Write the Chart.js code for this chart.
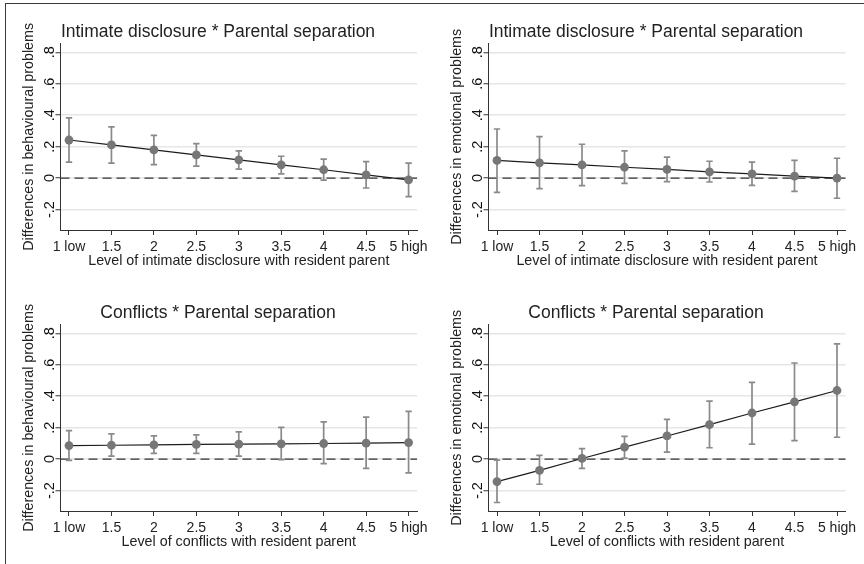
<!DOCTYPE html>
<html>
<head>
<meta charset="utf-8">
<title>Interaction effects</title>
<script src="https://cdn.jsdelivr.net/npm/chart.js@4.4.1/dist/chart.umd.min.js"></script>
<style>
  html, body { margin: 0; padding: 0; background: #fff; }
  #page { position: relative; width: 864px; height: 564px; overflow: hidden; }
  #frame {
    position: absolute; left: 5px; top: 3px; width: 880px; height: 580px;
    border-left: 1.5px solid #3a3a3a; border-top: 1.5px solid #3a3a3a;
  }
  .panel { position: absolute; width: 432px; height: 282px; }
</style>
</head>
<body>
<div id="page">
  <div id="frame"></div>
  <div class="panel" style="left:0;top:0"><canvas id="c1" width="432" height="282"></canvas></div>
  <div class="panel" style="left:432px;top:0"><canvas id="c2" width="432" height="282"></canvas></div>
  <div class="panel" style="left:0;top:281px"><canvas id="c3" width="432" height="282"></canvas></div>
  <div class="panel" style="left:432px;top:281px"><canvas id="c4" width="432" height="282"></canvas></div>
</div>
<script>
// x axis: level of the relationship quality
const xLevels = [1, 1.5, 2, 2.5, 3, 3.5, 4, 4.5, 5];
const xTickLabels = ['1 low', '1.5', '2', '2.5', '3', '3.5', '4', '4.5', '5 high'];
const yTickValues = [-0.2, 0, 0.2, 0.4, 0.6, 0.8];
const yTickLabels = ['-.2', '0', '.2', '.4', '.6', '.8'];

// intimate disclosure -> behavioural problems
const bhvIntimateEst = [0.242, 0.211, 0.179, 0.147, 0.116, 0.084, 0.053, 0.021, -0.011];
const bhvIntimateLo  = [0.101, 0.095, 0.086, 0.076, 0.057, 0.027, -0.013, -0.063, -0.118];
const bhvIntimateHi  = [0.383, 0.326, 0.272, 0.219, 0.173, 0.139, 0.120, 0.105, 0.095];

// intimate disclosure -> emotional problems
const emoIntimateEst = [0.112, 0.097, 0.084, 0.069, 0.055, 0.040, 0.027, 0.013, 0.000];
const emoIntimateLo  = [-0.091, -0.067, -0.048, -0.034, -0.023, -0.025, -0.046, -0.084, -0.128];
const emoIntimateHi  = [0.312, 0.263, 0.215, 0.173, 0.133, 0.107, 0.101, 0.112, 0.126];

// conflicts -> behavioural problems
const bhvConflictEst = [0.086, 0.088, 0.091, 0.093, 0.095, 0.097, 0.099, 0.101, 0.105];
const bhvConflictLo  = [-0.008, 0.019, 0.036, 0.036, 0.019, -0.004, -0.029, -0.059, -0.088];
const bhvConflictHi  = [0.181, 0.160, 0.147, 0.154, 0.173, 0.202, 0.236, 0.267, 0.303];

// conflicts -> emotional problems
const emoConflictEst = [-0.143, -0.072, 0.004, 0.076, 0.147, 0.219, 0.293, 0.364, 0.436];
const emoConflictLo  = [-0.276, -0.160, -0.059, 0.006, 0.044, 0.072, 0.095, 0.118, 0.139];
const emoConflictHi  = [-0.006, 0.023, 0.067, 0.145, 0.253, 0.368, 0.488, 0.611, 0.733];

const FONT = '"Liberation Sans", Arial, Helvetica, sans-serif';
Chart.defaults.font.family = FONT;
Chart.defaults.color = '#222';

// error bars with caps + dashed zero line, placed with the chart's scales
const ciPlugin = {
  id: 'ciBars',
  beforeDatasetsDraw(chart) {
    const { ctx, chartArea, scales: { x, y } } = chart;
    const ds = chart.data.datasets[0];
    ctx.save();
    // zero reference line
    const y0 = y.getPixelForValue(0);
    ctx.strokeStyle = '#333';
    ctx.lineWidth = 1.3;
    ctx.setLineDash([9, 5]);
    ctx.beginPath();
    ctx.moveTo(chartArea.left, y0);
    ctx.lineTo(chartArea.right, y0);
    ctx.stroke();
    ctx.setLineDash([]);
    // confidence intervals
    ctx.strokeStyle = '#8a8a8a';
    ctx.lineWidth = 1.7;
    const cap = 3.2;
    ds.ciLo.forEach((lo, i) => {
      const px = x.getPixelForValue(xLevels[i]);
      const pLo = y.getPixelForValue(lo);
      const pHi = y.getPixelForValue(ds.ciHi[i]);
      ctx.beginPath();
      ctx.moveTo(px, pLo); ctx.lineTo(px, pHi);
      ctx.moveTo(px - cap, pLo); ctx.lineTo(px + cap, pLo);
      ctx.moveTo(px - cap, pHi); ctx.lineTo(px + cap, pHi);
      ctx.stroke();
    });
    ctx.restore();
  },
  // stata-style vertical y tick labels
  afterDraw(chart) {
    const { ctx, chartArea, scales: { y } } = chart;
    ctx.save();
    ctx.fillStyle = '#111';
    ctx.font = '14.5px ' + FONT;
    ctx.textAlign = 'center';
    ctx.textBaseline = 'middle';
    y.ticks.forEach((t, i) => {
      ctx.save();
      ctx.translate(chartArea.left - 10.5, y.getPixelForValue(t.value));
      ctx.rotate(-Math.PI / 2);
      ctx.fillText(yTickLabels[i], 0, 0);
      ctx.restore();
    });
    ctx.restore();
  }
};

function makePanel(id, title, yTitle, xTitle, est, lo, hi, padL, padR) {
  new Chart(document.getElementById(id), {
    type: 'scatter',
    data: {
      datasets: [{
        data: xLevels.map((v, i) => ({ x: v, y: est[i] })),
        ciLo: lo,
        ciHi: hi,
        showLine: true,
        borderColor: '#1c1c1c',
        borderWidth: 1.2,
        pointRadius: 4.4,
        pointBackgroundColor: '#777',
        pointBorderWidth: 0,
      }]
    },
    options: {
      responsive: false,
      animation: false,
      events: [],
      layout: { padding: { left: padL, right: padR, top: 0, bottom: 0 } },
      plugins: {
        legend: { display: false },
        tooltip: { enabled: false },
        title: {
          display: true,
          text: title,
          color: '#222',
          font: { size: 17.5, weight: 'normal' },
          padding: { top: 22, bottom: 0.6 },
        },
      },
      scales: {
        x: {
          type: 'linear',
          min: 0.9,
          max: 5.1,
          afterBuildTicks: s => { s.ticks = xLevels.map(v => ({ value: v })); },
          afterFit: s => { s.height = 52; },
          ticks: {
            callback: (v, i) => xTickLabels[i],
            autoSkip: false,
            maxRotation: 0,
            padding: 4,
            font: { size: 14 },
          },
          grid: { drawOnChartArea: false, tickLength: 5, tickColor: '#333', tickWidth: 1 },
          border: { color: '#333', width: 1 },
          title: {
            display: true,
            text: xTitle,
            font: { size: 14.3 },
            padding: { top: 0, bottom: 12 },
          },
        },
        y: {
          type: 'linear',
          min: -0.33,
          max: 0.855,
          afterBuildTicks: s => { s.ticks = yTickValues.map(v => ({ value: v })); },
          afterFit: s => { s.width = 42; },
          ticks: { display: false },
          grid: { color: '#e6e6e6', lineWidth: 1.5, tickLength: 5, tickColor: '#333', tickWidth: 1 },
          border: { color: '#333', width: 1 },
          title: {
            display: true,
            text: yTitle,
            font: { size: 14.3 },
            padding: { top: 1.5, bottom: 0 },
          },
        },
      },
    },
    plugins: [ciPlugin],
  });
}

makePanel('c1', 'Intimate disclosure * Parental separation', 'Differences in behavioural problems',
  'Level of intimate disclosure with resident parent', bhvIntimateEst, bhvIntimateLo, bhvIntimateHi, 18.5, 14.5);
makePanel('c2', 'Intimate disclosure * Parental separation', 'Differences in emotional problems',
  'Level of intimate disclosure with resident parent', emoIntimateEst, emoIntimateLo, emoIntimateHi, 14.5, 18.5);
makePanel('c3', 'Conflicts * Parental separation', 'Differences in behavioural problems',
  'Level of conflicts with resident parent', bhvConflictEst, bhvConflictLo, bhvConflictHi, 18.5, 14.5);
makePanel('c4', 'Conflicts * Parental separation', 'Differences in emotional problems',
  'Level of conflicts with resident parent', emoConflictEst, emoConflictLo, emoConflictHi, 14.5, 18.5);
</script>
</body>
</html>
